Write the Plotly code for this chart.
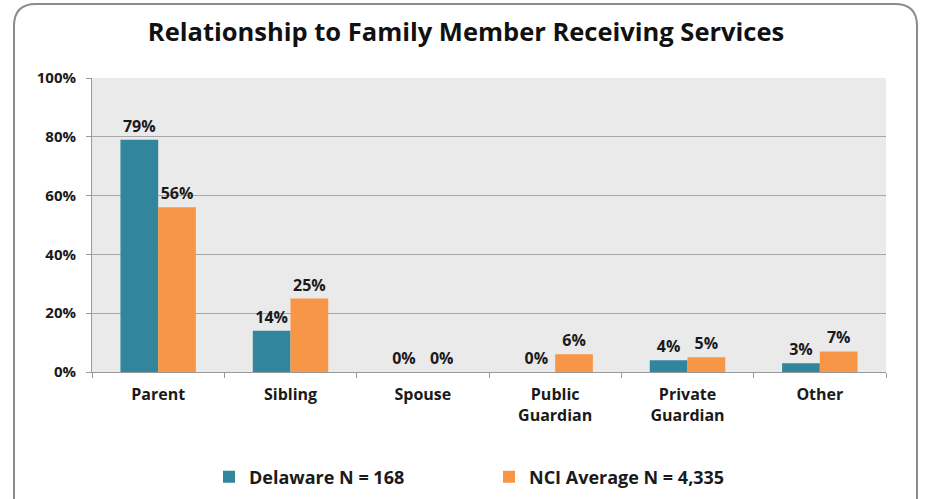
import plotly.graph_objects as go

categories = ["Parent", "Sibling", "Spouse", "Public<br>Guardian", "Private<br>Guardian", "Other"]
delaware = [79, 14, 0, 0, 4, 3]
nci = [56, 25, 0, 6, 5, 7]
series_names = ["Delaware N = 168", "NCI Average N = 4,335"]
y_ticks = [0, 20, 40, 60, 80, 100]

FONT = "Open Sans"
W, H = 925, 499
ML, MR, MT, MB = 92, 39, 78, 127

fig = go.Figure()
for name, vals, color in [(series_names[0], delaware, "#31859C"), (series_names[1], nci, "#F79646")]:
    fig.add_trace(go.Bar(
        x=categories, y=vals, name=name, marker_color=color,
        marker_line_width=0,
        text=[f"{v}%" for v in vals], textposition="outside", cliponaxis=False,
        textfont=dict(family=FONT, size=16, color="#1a1a1a", weight="bold"),
    ))

fig.update_layout(
    width=W, height=H,
    margin=dict(l=ML, r=MR, t=MT, b=MB, autoexpand=False),
    paper_bgcolor="white", plot_bgcolor="#EAEAEA",
    barmode="group", bargap=0.43, bargroupgap=0,
    title=dict(text="<b>Relationship to Family Member Receiving Services</b>",
               x=(466 - ML) / (W - ML - MR), xref="paper", xanchor="center",
               y=1 - 32 / H, yref="container", yanchor="middle",
               font=dict(family=FONT, size=25.5, color="#111")),
    font=dict(family=FONT, size=13, color="#1a1a1a"),
    showlegend=True,
    legend=dict(orientation="h", x=(209 - ML) / (W - ML - MR), xanchor="left",
                y=1 - 477 / H, yref="container", yanchor="middle",
                font=dict(family=FONT, size=18, color="#1a1a1a", weight="bold"),
                itemwidth=30, entrywidth=235, traceorder="normal"),
)
fig.update_xaxes(
    tickson="boundaries", ticks="outside", ticklen=5, tickcolor="#999",
    showline=True, linecolor="#999", linewidth=1, showgrid=False,
    ticklabelstandoff=8,
    tickfont=dict(family=FONT, size=16, color="#1a1a1a", weight="bold"),
)
fig.update_yaxes(
    range=[0, 100], tickvals=y_ticks, ticktext=[f"{v}%" for v in y_ticks],
    ticks="outside", ticklen=5, tickcolor="#999",
    showline=True, linecolor="#999", linewidth=1,
    showgrid=True, gridcolor="#A6A6A6", gridwidth=1, zeroline=False,
    ticklabelstandoff=7,
    tickfont=dict(family=FONT, size=15, color="#1a1a1a", weight="bold"),
)

# rounded outer frame (paper coords relative to plot area)
pw = W - ML - MR
ph = H - MT - MB
def px(x):
    return (x - ML) / pw
def py(y):
    return (H - MB - y) / ph
r = 22
x0, x1, y0, y1 = 14, 917, 4, 520
path = (f"M {px(x0)},{py(y0 + r)} "
        f"Q {px(x0)},{py(y0)} {px(x0 + r)},{py(y0)} "
        f"L {px(x1 - r)},{py(y0)} "
        f"Q {px(x1)},{py(y0)} {px(x1)},{py(y0 + r)} "
        f"L {px(x1)},{py(y1 - r)} "
        f"Q {px(x1)},{py(y1)} {px(x1 - r)},{py(y1)} "
        f"L {px(x0 + r)},{py(y1)} "
        f"Q {px(x0)},{py(y1)} {px(x0)},{py(y1 - r)} Z")
fig.add_shape(type="path", path=path, xref="paper", yref="paper",
              line=dict(color="#8C8C8C", width=2), fillcolor="rgba(0,0,0,0)", layer="above")

fig.write_html("out.html", config={"displayModeBar": False},
               post_script="document.body.style.margin='0';document.body.style.overflow='hidden';")
